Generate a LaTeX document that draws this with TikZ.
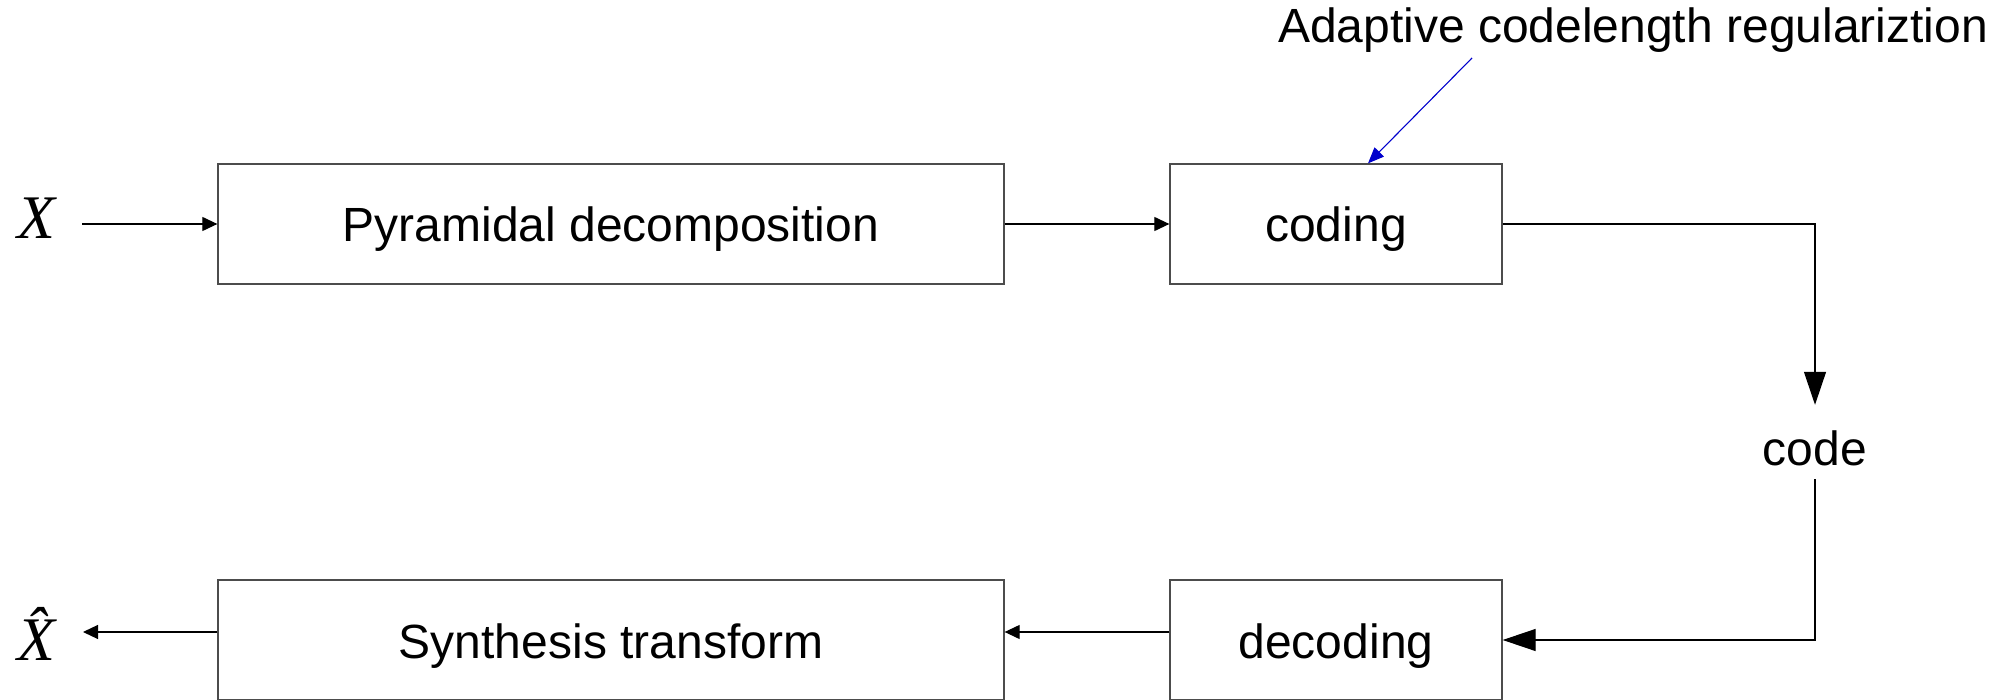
\documentclass[tikz,border=0pt]{standalone}
\usepackage{fontspec}
\setmainfont{Liberation Sans}
\newfontfamily\symfont{Liberation Serif}
\usetikzlibrary{arrows.meta}
\tikzset{
  blockbox/.style={draw=black!70, line width=1.3pt, rectangle, inner sep=0pt,
    minimum height=120pt, text height=36pt, text depth=0pt,
    font=\fontsize{48}{56}\selectfont},
  flow/.style={draw=black, line width=1.2pt, -{Triangle[length=15pt,width=14pt]}},
  bigflow/.style={draw=black, line width=1.2pt, -{Triangle[length=33pt,width=22pt]}},
  hint/.style={draw=blue!80!black, line width=1.1pt, -{Triangle[length=16pt,width=13pt]}},
  label/.style={font=\fontsize{48}{56}\selectfont, inner sep=0pt},
  sym/.style={font=\symfont\itshape\fontsize{62}{66}\selectfont, inner sep=0pt}
}
\begin{document}
\begin{tikzpicture}[x=1pt, y=-1pt]
  \useasboundingbox (0,0) rectangle (2007,700);

  % processing blocks
  \node[blockbox, minimum width=786pt] (pyr)    at (611,224) {Pyramidal decomposition};
  \node[blockbox, minimum width=332pt] (coding) at (1336,224) {coding};
  \node[blockbox, minimum width=332pt] (decoding) at (1336,640) {decoding};
  \node[blockbox, minimum width=786pt] (synth)  at (611,640) {Synthesis transform};

  % input and output symbols
  \node[sym, anchor=base] (x) at (36,239) {X};
  \node[sym, anchor=base] (xhat) at (36,660) {\^{X}};
  \coordinate (xin) at (82,224);
  \coordinate (xout) at (83,632);

  % bit stream label
  \node[label, anchor=base, text height=60pt, text depth=14pt] (code) at (1815,465) {code};

  % regularization note
  \node[label, anchor=base] (reg) at (1633,43) {Adaptive codelength regulariztion};
  \coordinate (regfoot) at (1472,58);

  % connectors
  \draw[flow] (xin) -- (pyr.west);
  \draw[flow] (pyr.east) -- (coding.west);
  \draw[bigflow] (coding.east) -| (code.north);
  \draw[bigflow] (code.south) |- (decoding.east);
  \draw[flow] ([yshift=8pt]decoding.west) -- ([yshift=8pt]synth.east);
  \draw[flow] ([yshift=8pt]synth.west) -- (xout);
  \draw[hint] (regfoot) -- ([xshift=32pt]coding.north);
\end{tikzpicture}
\end{document}
